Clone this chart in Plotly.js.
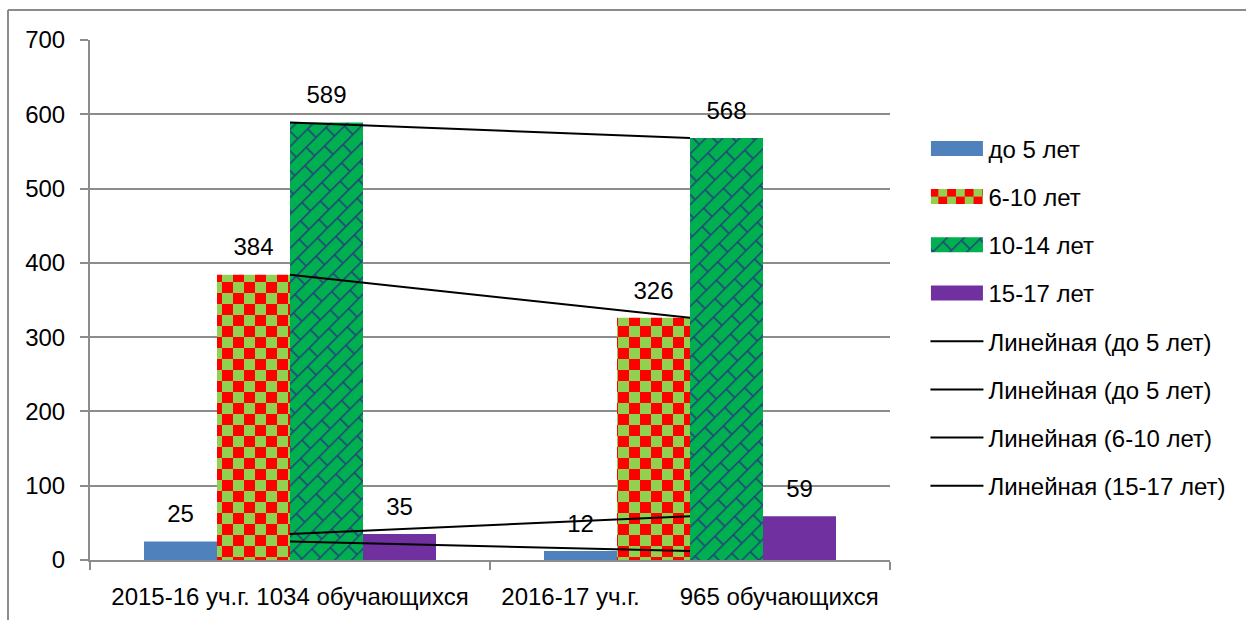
<!DOCTYPE html>
<html>
<head>
<meta charset="utf-8">
<script src="https://cdn.plot.ly/plotly-3.0.1.min.js"></script>
<style>
html,body{margin:0;padding:0;background:#fff;}
#chart{width:1246px;height:620px;}
</style>
</head>
<body>
<div id="chart"></div>
<script>
// ---- data ----
const categories = ["2015-16 уч.г. 1034 обучающихся", "2016-17 уч.г.\u00a0\u00a0\u00a0\u00a0\u00a0\u00a0965 обучающихся"];
const seriesNames = ["до 5 лет", "6-10 лет", "10-14 лет", "15-17 лет"];
const under5 = [25, 12];
const age6to10 = [384, 326];
const age10to14 = [589, 568];
const age15to17 = [35, 59];
const trendNames = ["Линейная (до 5 лет)", "Линейная (до 5 лет)", "Линейная (6-10 лет)", "Линейная (15-17 лет)"];
const trendValues = [under5, age10to14, age6to10, age15to17];
const yTicks = [0, 100, 200, 300, 400, 500, 600, 700];

const FONT = "Liberation Sans, Arial, sans-serif";
const FS = 24;
const labelTpl = "<span style='font-size:" + FS + "px'>%{y}</span><br> ";

const barStyles = [
  {color: "#4f81bd"},
  {color: "#ff0000", pattern: {shape: "+", bgcolor: "#92d050", fgcolor: "#ff0000", fgopacity: 1, size: 22, solidity: 0.45, fillmode: "replace"}},
  {color: "#00b050", pattern: {shape: "/", bgcolor: "#00b050", fgcolor: "#1f3864", fgopacity: 1, size: 16, solidity: 0.18, fillmode: "replace"}},
  {color: "#7030a0"}
];
const barValues = [under5, age6to10, age10to14, age15to17];

const traces = [];
barValues.forEach((vals, i) => {
  traces.push({
    type: "bar",
    name: seriesNames[i],
    x: categories,
    y: vals,
    marker: Object.assign({line: {width: 0}}, barStyles[i]),
    texttemplate: labelTpl,
    textposition: "outside",
    textfont: {family: FONT, size: 11, color: "#000"},
    cliponaxis: false,
    legendgroup: "g" + i,
    hoverinfo: "skip"
  });
});
trendValues.forEach((vals, i) => {
  traces.push({
    type: "scatter",
    mode: "lines",
    name: trendNames[i],
    x: categories,
    y: vals,
    line: {color: "#000", width: 2},
    legendgroup: "t" + i,
    hoverinfo: "skip"
  });
});

const layout = {
  width: 1246,
  height: 620,
  margin: {l: 90, r: 356, t: 40, b: 60},
  paper_bgcolor: "#fff",
  plot_bgcolor: "#fff",
  font: {family: FONT, size: FS, color: "#000"},
  barmode: "group",
  bargap: 0.27,
  bargroupgap: 0,
  showlegend: true,
  legend: {
    x: 1.0418, xanchor: "left",
    y: 0.834, yanchor: "top",
    font: {family: FONT, size: FS, color: "#000"},
    tracegroupgap: 14,
    itemwidth: 55,
    traceorder: "grouped",
    bgcolor: "rgba(0,0,0,0)"
  },
  xaxis: {
    type: "category",
    tickson: "boundaries",
    ticks: "outside",
    ticklen: 8,
    tickwidth: 2,
    tickcolor: "#8c8c8c",
    showgrid: false,
    showline: true,
    linecolor: "#8c8c8c",
    linewidth: 2,
    ticklabelstandoff: 14,
    tickfont: {family: FONT, size: FS, color: "#000"},
    range: [-0.5, 1.5],
    fixedrange: true
  },
  yaxis: {
    range: [0, 700],
    tickvals: yTicks,
    ticktext: yTicks.map(String),
    ticks: "outside",
    ticklen: 8,
    tickwidth: 2,
    tickcolor: "#8c8c8c",
    showline: true,
    linecolor: "#8c8c8c",
    linewidth: 2,
    showgrid: true,
    gridcolor: "#8c8c8c",
    gridwidth: 2,
    zeroline: false,
    ticklabelstandoff: 10,
    tickfont: {family: FONT, size: FS, color: "#000"},
    fixedrange: true
  },
  shapes: [
    {type: "line", xref: "paper", yref: "paper", x0: -0.1025, x1: 1.5, y0: 1.0577, y1: 1.0577, line: {color: "#8c8c8c", width: 2}},
    {type: "line", xref: "paper", yref: "paper", x0: -0.1025, x1: -0.1025, y0: 1.0577, y1: -0.2, line: {color: "#8c8c8c", width: 2}}
  ]
};

const SVGNS = "http://www.w3.org/2000/svg";
function el(tag, attrs) {
  const e = document.createElementNS(SVGNS, tag);
  for (const k in attrs) e.setAttribute(k, attrs[k]);
  return e;
}
function restylePatterns(gd) {
  gd.querySelectorAll("pattern").forEach(p => {
    const html = p.innerHTML.toLowerCase();
    if (html.indexOf("255, 0, 0") >= 0 || html.indexOf("#ff0000") >= 0) {
      while (p.firstChild) p.removeChild(p.firstChild);
      p.setAttribute("width", 22); p.setAttribute("height", 22);
      p.setAttribute("viewBox", "0 0 22 22");
      p.appendChild(el("rect", {x: 0, y: 0, width: 22, height: 22, fill: "#92d050"}));
      p.appendChild(el("rect", {x: 0, y: 0, width: 11, height: 11, fill: "#ff0000"}));
      p.appendChild(el("rect", {x: 11, y: 11, width: 11, height: 11, fill: "#ff0000"}));
    } else if (html.indexOf("31, 56, 100") >= 0 || html.indexOf("#1f3864") >= 0) {
      while (p.firstChild) p.removeChild(p.firstChild);
      p.setAttribute("width", 28); p.setAttribute("height", 24);
      p.setAttribute("viewBox", "0 0 28 24");
      p.setAttribute("patternTransform", "rotate(-45)");
      p.appendChild(el("rect", {x: 0, y: 0, width: 28, height: 24, fill: "#00b050"}));
      const d = "M0,0.75H28 M0,12.75H28 M7,0.75V12.75 M21,12.75V24.75";
      p.appendChild(el("path", {d: d, stroke: "#25427a", "stroke-width": 1.6, fill: "none"}));
    }
  });
  gd.querySelectorAll(".legend .legendpoints path").forEach(pp => {
    const dd = (pp.getAttribute("d") || "").replace(/\s/g, "");
    if (dd === "M6,6H-6V-6H6Z") {
      pp.setAttribute("d", "M27,7.5H-25V-7.5H27Z");
    }
  });
  gd.querySelectorAll(".legend .legendlines path").forEach(pp => {
    pp.setAttribute("d", "M7,0h53");
  });
}

Plotly.newPlot("chart", traces, layout, {displayModeBar: false, staticPlot: true}).then(gd => restylePatterns(gd));
</script>
</body>
</html>
